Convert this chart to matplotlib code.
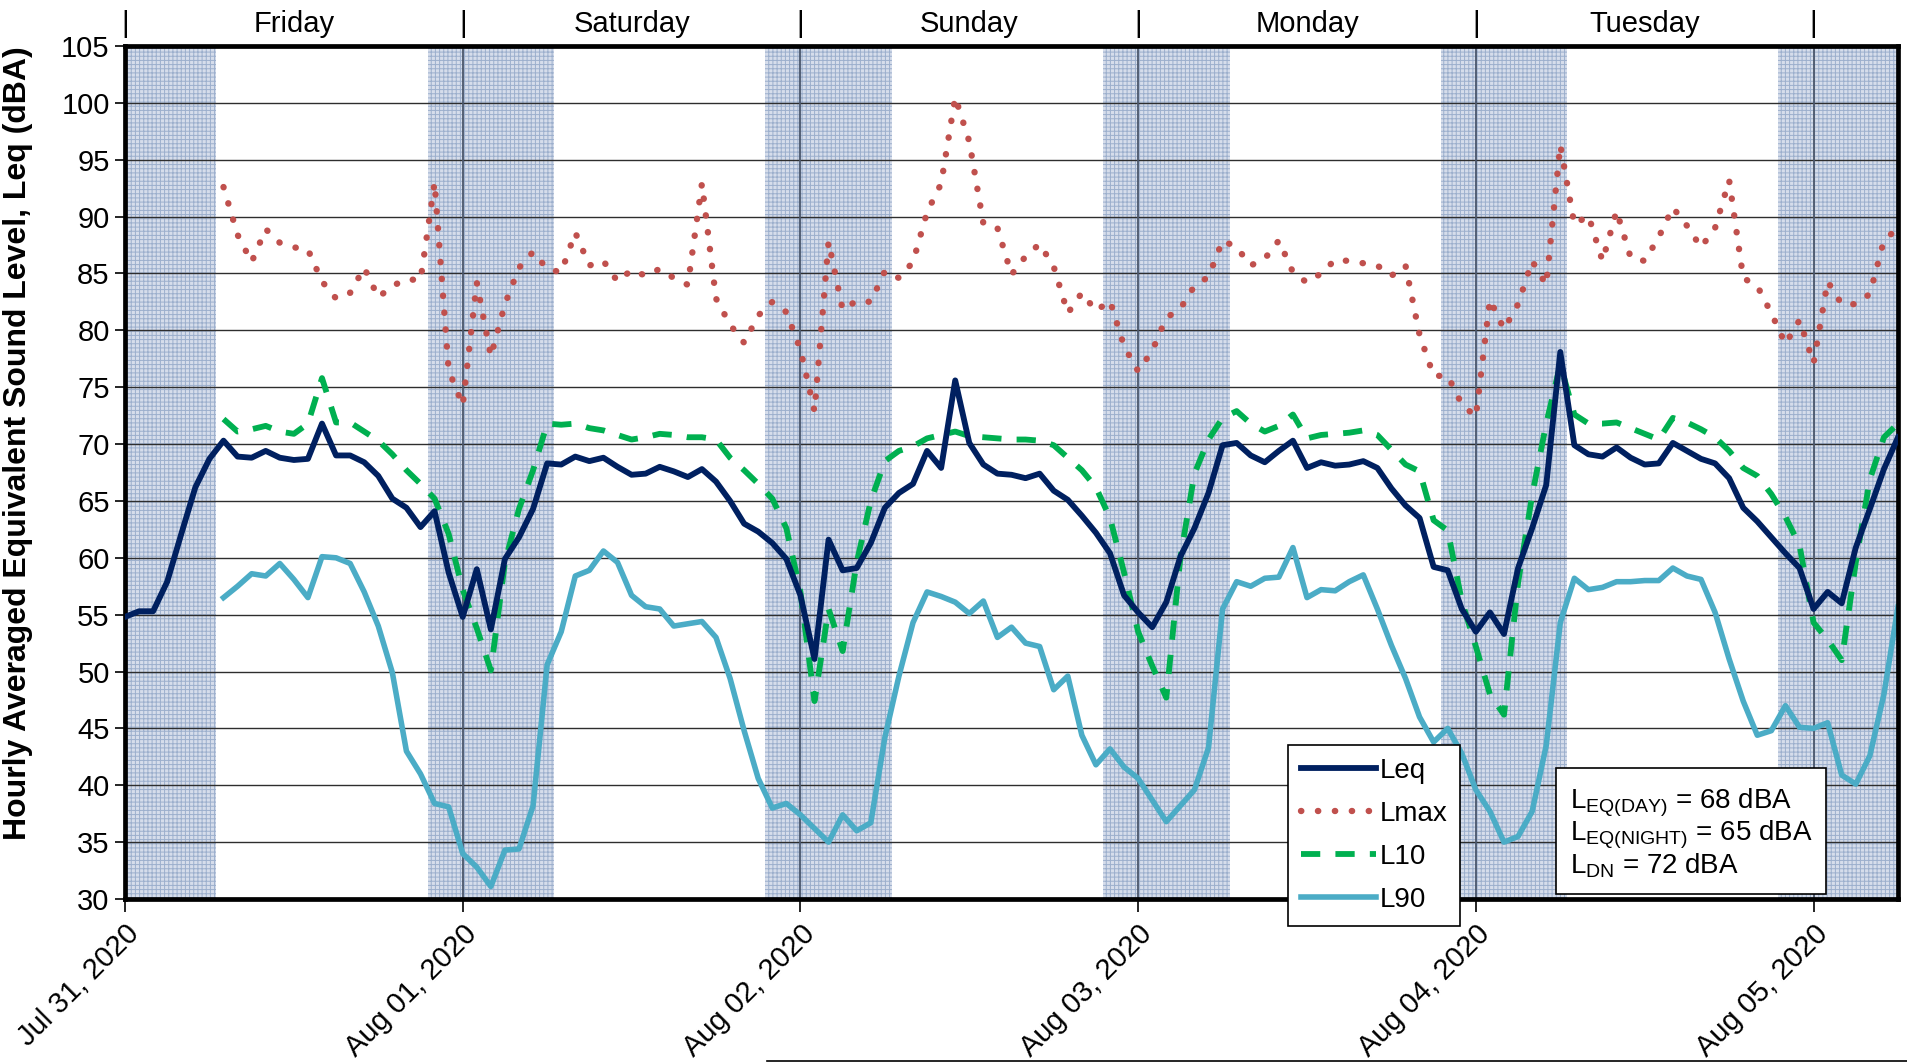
import numpy as np
import matplotlib
matplotlib.use("Agg")
import matplotlib.pyplot as plt
from matplotlib.lines import Line2D
from matplotlib.transforms import blended_transform_factory

plt.rcParams['font.family'] = ['Liberation Sans', 'DejaVu Sans']
plt.rcParams['hatch.linewidth'] = 0.7

# ---------------- data (hourly, starting Jul 31 2020 00:00) ----------------
leq = [54.8, 55.3, 55.3, 57.9, 62.1, 66.2, 68.7, 70.3, 68.9, 68.8, 69.4, 68.8, 68.6, 68.7, 71.8, 69.0, 69.0, 68.4, 67.2, 65.2, 64.4, 62.7, 64.1, 58.7,
       54.8, 59.0, 53.7, 59.9, 61.8, 64.3, 68.3, 68.2, 68.9, 68.5, 68.8, 68.0, 67.3, 67.4, 68.0, 67.6, 67.1, 67.8, 66.7, 65.0, 63.0, 62.3, 61.3, 59.9,
       56.7, 51.1, 61.6, 58.9, 59.1, 61.3, 64.4, 65.7, 66.5, 69.4, 67.9, 75.6, 70.1, 68.2, 67.4, 67.3, 67.0, 67.4, 65.9, 65.1, 63.7, 62.2, 60.4, 56.7,
       55.2, 53.9, 56.1, 60.1, 62.6, 65.7, 69.9, 70.1, 69.0, 68.4, 69.4, 70.3, 67.9, 68.4, 68.1, 68.2, 68.5, 67.9, 66.1, 64.6, 63.5, 59.2, 58.9, 55.5,
       53.5, 55.2, 53.3, 59.1, 62.6, 66.4, 78.1, 69.9, 69.1, 68.9, 69.7, 68.8, 68.2, 68.3, 70.1, 69.4, 68.7, 68.3, 67.0, 64.4, 63.2, 61.8, 60.4, 59.1,
       55.5, 57.0, 56.0, 60.9, 64.3, 67.8, 70.6]

# Lmax, L10, L90 start at 07:00 on Jul 31
stat_start = 7
lmax = [92.6, 88.4, 86.0, 88.9, 87.7, 87.3, 87.1, 84.3, 82.8, 83.3, 85.5, 82.9, 83.9, 84.5, 84.4, 93.0, 76.5,
        73.4, 84.2, 77.7, 82.3, 85.5, 86.9, 85.4, 85.1, 88.6, 85.7, 86.1, 84.3, 85.3, 84.8, 85.4, 84.6, 84.0, 92.9, 82.8, 80.5, 78.9, 81.3, 82.5, 81.6,
        78.3, 72.9, 87.8, 81.8, 82.6, 82.5, 85.2, 84.6, 86.0, 90.4, 92.9, 100.5, 96.6, 89.4, 89.0, 84.9, 86.5, 87.6, 85.6, 81.5, 83.3, 81.7, 82.6, 78.6,
        76.4, 78.2, 81.1, 81.9, 83.9, 84.7, 87.9, 87.3, 85.7, 86.3, 87.9, 85.1, 84.2, 85.0, 86.2, 86.1, 85.9, 85.7, 84.8, 85.7, 79.6, 76.0, 76.0, 73.5,
        72.4, 82.7, 80.1, 82.3, 86.1, 84.0, 96.3, 89.3, 90.1, 86.1, 90.5, 86.4, 86.1, 88.2, 90.8, 89.2, 87.3, 89.0, 93.2, 84.6, 83.9, 81.5, 78.8, 80.9,
        77.1, 84.3, 82.3, 82.3, 83.2, 87.9, 89.0]

l10 = [72.2, 71.1, 71.3, 71.6, 71.1, 70.9, 71.8, 75.8, 71.9, 71.9, 71.1, 70.3, 69.1, 67.7, 66.5, 65.2, 62.1,
       57.2, 53.8, 50.1, 59.6, 64.3, 67.7, 71.8, 71.7, 71.8, 71.4, 71.2, 70.8, 70.4, 70.6, 70.9, 70.8, 70.6, 70.6, 70.4, 68.8, 67.7, 66.5, 65.2, 62.6,
       57.0, 47.4, 55.5, 51.8, 59.6, 65.0, 68.5, 69.4, 69.8, 70.5, 70.8, 71.1, 70.7, 70.6, 70.5, 70.4, 70.4, 70.3, 69.9, 68.8, 67.7, 66.2, 63.5, 58.7,
       53.5, 50.5, 47.7, 60.0, 67.4, 70.4, 72.3, 72.9, 71.8, 71.1, 71.6, 72.6, 70.5, 70.8, 70.9, 71.0, 71.2, 70.8, 69.5, 68.2, 67.6, 63.3, 62.4, 56.2,
       52.2, 48.0, 46.2, 57.8, 65.5, 71.8, 77.0, 72.6, 71.8, 71.8, 71.9, 71.4, 70.9, 70.4, 72.3, 71.9, 71.3, 70.6, 69.4, 67.9, 67.2, 65.6, 63.6, 61.1,
       54.3, 52.8, 51.0, 59.6, 66.9, 70.6, 71.8]

l90 = [56.5, 57.5, 58.6, 58.4, 59.5, 58.1, 56.5, 60.1, 60.0, 59.5, 57.0, 54.0, 49.9, 43.0, 41.0, 38.4, 38.1,
       34.0, 32.8, 31.1, 34.3, 34.4, 38.2, 50.6, 53.5, 58.4, 58.9, 60.6, 59.6, 56.7, 55.7, 55.5, 54.0, 54.2, 54.4, 53.0, 49.4, 44.8, 40.6, 38.0, 38.4,
       37.4, 36.2, 35.0, 37.4, 36.0, 36.7, 44.2, 49.6, 54.3, 57.0, 56.6, 56.1, 55.1, 56.2, 53.0, 53.9, 52.5, 52.2, 48.4, 49.6, 44.4, 41.8, 43.2, 41.6,
       40.6, 38.7, 36.8, 38.2, 39.6, 43.3, 55.5, 57.9, 57.5, 58.2, 58.3, 60.9, 56.5, 57.2, 57.1, 57.9, 58.5, 55.5, 52.3, 49.4, 46.0, 43.8, 45.0, 42.8,
       39.6, 37.7, 35.0, 35.5, 37.7, 43.5, 54.3, 58.2, 57.2, 57.4, 57.9, 57.9, 58.0, 58.0, 59.1, 58.4, 58.1, 55.2, 51.1, 47.4, 44.4, 44.8, 47.0, 45.1,
       45.0, 45.5, 40.9, 40.1, 42.6, 48.0, 55.7]

date_labels = ["Jul 31, 2020", "Aug 01, 2020", "Aug 02, 2020", "Aug 03, 2020", "Aug 04, 2020", "Aug 05, 2020"]
day_names = ["Friday", "Saturday", "Sunday", "Monday", "Tuesday"]
night_start_hour = 21.5   # shading (hourly bins 22:00-06:00)
night_end_hour = 6.5
summary_lines = [r"L$_{\mathregular{EQ(DAY)}}$ = 68 dBA",
                 r"L$_{\mathregular{EQ(NIGHT)}}$ = 65 dBA",
                 r"L$_{\mathregular{DN}}$ = 72 dBA"]

# ---------------- figure ----------------
W, H = 1907, 1063
fig = plt.figure(figsize=(W / 100, H / 100), dpi=100)
ax = fig.add_axes([125 / W, 1 - 899 / H, (1898 - 125) / W, (899 - 46) / H])

hours_leq = np.arange(len(leq))
hours_stat = np.arange(stat_start, stat_start + len(lmax))
x_end = len(leq) - 1

# night shading
shade_kw = dict(facecolor='#d6ddeb', edgecolor='#9cafcd', hatch='++++', linewidth=0, zorder=0.3)
ax.axvspan(0, night_end_hour, **shade_kw)
for d in range(len(date_labels) - 1):
    s = 24 * d + night_start_hour
    e = min(24 * (d + 1) + night_end_hour, x_end)
    ax.axvspan(s, e, **shade_kw)

# grid
ax.set_axisbelow(True)
ax.yaxis.grid(True, color='#2e2e2e', linewidth=1.0)
for d in range(1, len(date_labels)):
    ax.axvline(24 * d, color='#4a566b', linewidth=1.3, zorder=0.6)

c_leq, c_lmax, c_l10, c_l90 = '#002060', '#C0504D', '#00B050', '#4BACC6'
ax.plot(hours_leq, leq, color=c_leq, lw=4.2, label='Leq', zorder=5, solid_joinstyle='round')
ax.plot(hours_stat, lmax, color=c_lmax, lw=4.6, linestyle=(0, (0.05, 2.6)),
        dash_capstyle='round', label='Lmax', zorder=3)
ax.plot(hours_stat, l10, color=c_l10, lw=4.2, linestyle=(0, (3.3, 2.6)), label='L10', zorder=4)
ax.plot(hours_stat, l90, color=c_l90, lw=4.0, label='L90', zorder=2, solid_joinstyle='round')

ax.set_xlim(0, x_end)
ax.set_ylim(30, 105)
ax.set_yticks(np.arange(30, 106, 5))
ax.set_xticks([24 * i for i in range(len(date_labels))])
ax.set_xticklabels(date_labels, rotation=45, ha='right', va='top', rotation_mode='anchor')
ax.tick_params(axis='both', labelsize=21, direction='out', color='black')
ax.tick_params(axis='y', length=7, width=1.2, pad=4)
ax.tick_params(axis='x', length=9, width=1.2, pad=6)

for sp in ax.spines.values():
    sp.set_linewidth(3.4)
    sp.set_color('black')

ax.set_ylabel("Hourly Averaged Equivalent Sound Level, Leq (dBA)", fontsize=23,
              fontweight='bold', labelpad=6)
ax.yaxis.set_label_coords(-0.052, 0.535)

# day labels on top
tr = blended_transform_factory(ax.transData, ax.transAxes)
for d in range(len(date_labels)):
    ax.text(24 * d, 1.026, "|", transform=tr, ha='center', va='center', fontsize=21)
for d, name in enumerate(day_names):
    ax.text(24 * d + 12, 1.026, name, transform=tr, ha='center', va='center', fontsize=21)

# legend
leg = ax.legend(loc='upper left', bbox_to_anchor=(1288 / W, 1 - 745 / H), bbox_transform=fig.transFigure,
                fontsize=20, frameon=True, fancybox=False, edgecolor='black', framealpha=1,
                handlelength=2.7, handletextpad=0.15, labelspacing=0.62, borderpad=0.45, borderaxespad=0)
leg.get_frame().set_linewidth(1.2)
leg.set_zorder(10)

# summary box
fig.text(1570 / W, 1 - 833 / H, "\n".join(summary_lines), fontsize=20, ha='left', va='center',
         linespacing=1.0,
         bbox=dict(boxstyle='square,pad=0.5', facecolor='white', edgecolor='black', linewidth=1.2),
         zorder=10)

# stray line at the bottom of the picture
fig.add_artist(Line2D([767 / W, 1.0], [1 - 1061 / H, 1 - 1061 / H], color='black', lw=1.2))

fig.savefig("out.png", dpi=100)
